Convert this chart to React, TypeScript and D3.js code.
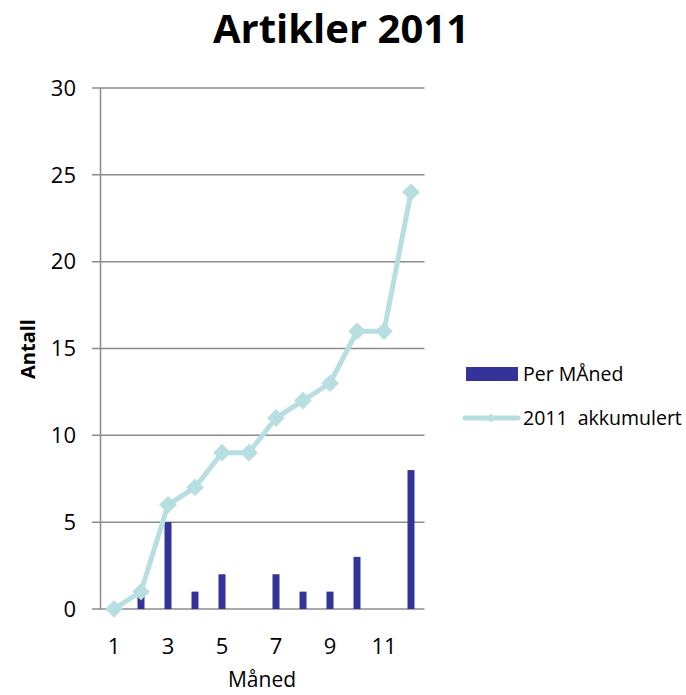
import { useEffect, useRef } from "react";
import * as d3 from "d3";

const months = [1, 2, 3, 4, 5, 6, 7, 8, 9, 10, 11, 12];
const perMonth = [0, 1, 5, 1, 2, 0, 2, 1, 1, 3, 0, 8];
const cumulative = [0, 1, 6, 7, 9, 9, 11, 12, 13, 16, 16, 24];
const yTicks = [0, 5, 10, 15, 20, 25, 30];
const xLabels = [1, 3, 5, 7, 9, 11];

const BAR = "#333399";
const LINE = "#b7dfe2";
const GRID = "#8c8c8c";
const FONT = "Open Sans, Liberation Sans, sans-serif";

export default function App() {
  const svgRef = useRef<SVGSVGElement>(null);

  useEffect(() => {
    if (!svgRef.current) return;
    const svg = d3.select(svgRef.current);
    svg.selectAll("*").remove();

    const margin = { left: 100.5, right: 424.5, top: 88, bottom: 609 };

    const x = d3.scaleBand<number>().domain(months).range([margin.left, margin.right]);
    const y = d3.scaleLinear().domain([0, 30]).range([margin.bottom, margin.top]);
    const cx = (m: number) => (x(m) as number) + x.bandwidth() / 2;

    // Title
    svg.append("text")
      .attr("x", 341).attr("y", 43)
      .attr("text-anchor", "middle")
      .attr("font-family", FONT).attr("font-weight", "bold").attr("font-size", "40px")
      .attr("fill", "#000")
      .text("Artikler 2011");

    // Gridlines + tick labels
    yTicks.forEach((t) => {
      svg.append("line")
        .attr("x1", 92).attr("x2", margin.right)
        .attr("y1", y(t)).attr("y2", y(t))
        .attr("stroke", GRID).attr("stroke-width", 1.5);
      svg.append("text")
        .attr("x", 76).attr("y", y(t))
        .attr("dy", "0.35em")
        .attr("text-anchor", "end")
        .attr("font-family", FONT).attr("font-size", "22px")
        .attr("fill", "#000")
        .text(t);
    });

    // Y axis line
    svg.append("line")
      .attr("x1", margin.left).attr("x2", margin.left)
      .attr("y1", margin.top).attr("y2", margin.bottom)
      .attr("stroke", GRID).attr("stroke-width", 1.5);

    // Bars
    svg.append("g")
      .selectAll("rect")
      .data(months)
      .join("rect")
      .attr("x", (m) => cx(m) - 3.5)
      .attr("width", 7)
      .attr("y", (m, i) => y(perMonth[i]))
      .attr("height", (m, i) => y(0) - y(perMonth[i]))
      .attr("fill", BAR);

    // Cumulative line
    const line = d3.line<number>()
      .x((d, i) => cx(months[i]))
      .y((d) => y(d));
    svg.append("path")
      .datum(cumulative)
      .attr("d", line)
      .attr("fill", "none")
      .attr("stroke", LINE)
      .attr("stroke-width", 5)
      .attr("stroke-linejoin", "round");

    const diamond = d3.symbol().type(d3.symbolDiamond2).size(200);
    svg.append("g")
      .selectAll("path")
      .data(cumulative)
      .join("path")
      .attr("d", diamond)
      .attr("transform", (d, i) => `translate(${cx(months[i])},${y(d)})`)
      .attr("fill", LINE);

    // X labels
    xLabels.forEach((m) => {
      svg.append("text")
        .attr("x", cx(m)).attr("y", 654)
        .attr("text-anchor", "middle")
        .attr("font-family", FONT).attr("font-size", "22px")
        .attr("fill", "#000")
        .text(m);
    });

    // Axis titles
    svg.append("text")
      .attr("x", 262).attr("y", 687)
      .attr("text-anchor", "middle")
      .attr("font-family", FONT).attr("font-size", "21px")
      .attr("fill", "#000")
      .text("Måned");

    svg.append("text")
      .attr("transform", `translate(35,349) rotate(-90)`)
      .attr("text-anchor", "middle")
      .attr("font-family", FONT).attr("font-weight", "bold").attr("font-size", "20px")
      .attr("fill", "#000")
      .text("Antall");

    // Legend
    svg.append("rect")
      .attr("x", 466).attr("y", 367).attr("width", 52).attr("height", 14)
      .attr("fill", BAR);
    svg.append("text")
      .attr("x", 523).attr("y", 374).attr("dy", "0.35em")
      .attr("font-family", FONT).attr("font-size", "19.5px")
      .attr("fill", "#000")
      .text("Per MÅned");

    svg.append("line")
      .attr("x1", 465).attr("x2", 518).attr("y1", 418).attr("y2", 418)
      .attr("stroke", LINE).attr("stroke-width", 5).attr("stroke-linecap", "round");
    svg.append("path")
      .attr("d", d3.symbol().type(d3.symbolDiamond2).size(50))
      .attr("transform", "translate(491,418)")
      .attr("fill", LINE);
    svg.append("text")
      .attr("x", 523).attr("y", 418).attr("dy", "0.35em")
      .attr("font-family", FONT).attr("font-size", "19.5px")
      .attr("fill", "#000")
      .attr("xml:space", "preserve")
      .style("white-space", "pre")
      .text("2011  akkumulert");
  }, []);

  return (
    <svg
      ref={svgRef}
      width={686}
      height={695}
      style={{ position: "absolute", left: 0, top: 0, background: "#fff" }}
    />
  );
}
